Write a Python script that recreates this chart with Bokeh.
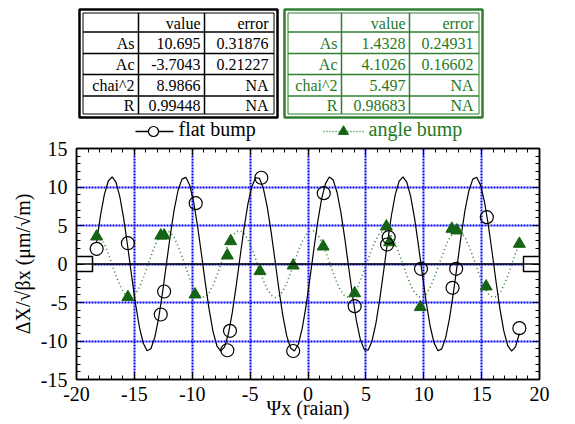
import numpy as np
from bokeh.plotting import figure
from bokeh.models import Range1d, LinearAxis, SingleIntervalTicker, Span
from bokeh.layouts import column
from bokeh.embed import file_html
from bokeh.resources import INLINE
from bokeh.core.properties import value

# ---------------- data ----------------
flat_psi = [-18.26, -15.56, -12.43, -12.72, -9.70, -6.74, -6.97, -4.03, -1.28,
            1.36, 4.03, 6.97, 6.83, 9.76, 12.80, 12.49, 15.45, 18.26]
flat_dx = [1.97, 2.70, -3.57, -6.56, 7.90, -8.68, -11.20, 11.20, -11.30,
           9.20, -5.48, 3.48, 2.53, -0.63, -0.63, -3.09, 6.08, -8.33]

angle_psi = [-18.26, -15.56, -12.72, -12.43, -9.76, -6.97, -6.68, -4.15, -1.28,
             1.31, 4.03, 6.77, 7.05, 9.70, 12.43, 12.86, 15.39, 18.26]
angle_dx = [3.57, -4.30, 3.70, 3.70, -3.96, 1.10, 2.96, -0.93, -0.20,
            2.27, -3.80, 4.87, 2.83, -5.60, 4.57, 4.35, -2.92, 2.62]

row_labels = ["As", "Ac", "chai^2", "R"]
col_headers = ["value", "error"]
flat_values = ["10.695", "-3.7043", "8.9866", "0.99448"]
flat_errors = ["0.31876", "0.21227", "NA", "NA"]
angle_values = ["1.4328", "4.1026", "5.497", "0.98683"]
angle_errors = ["0.24931", "0.16602", "NA", "NA"]

flat_As, flat_Ac = 10.695, -3.7043
angle_As, angle_Ac = 1.4328, 4.1026

series_names = ["flat bump", "angle bump"]
x_title = "\u03a8x (raian)"
y_title = "\u0394X/\u221a\u03b2x (\u03bcm/\u221am)"

X_MIN, X_MAX = -20, 20
Y_MIN, Y_MAX = -15, 15
x_ticks = list(range(X_MIN, X_MAX + 1, 5))
y_ticks = list(range(Y_MIN, Y_MAX + 1, 5))

FONT = "'Liberation Serif'"
GREEN_TXT = "#1f7a1f"
GREEN_LINE = "#2f7f2f"
GREEN_MK = "#146414"

# fit curves from the fitted parameters shown in the tables
fit_psi = np.linspace(min(flat_psi), max(flat_psi), 110)
flat_fit = flat_As * np.sin(fit_psi) + flat_Ac * np.cos(fit_psi)
angle_fit = angle_As * np.sin(fit_psi) + angle_Ac * np.cos(fit_psi)

# ---------------- layout (pixels) ----------------
FRAME_L, FRAME_R = 76, 539       # frame edges on the page
FRAME_W = FRAME_R - FRAME_L
FRAME_H = 231
PAD_L, PAD_R = 76, 30
TOP_H = 141                      # panel holding tables + legend
MAIN_TOP = 7

# ---------------- top panel: tables + legend (page-pixel coordinates) ----------------
top = figure(frame_width=FRAME_W, frame_height=TOP_H,
             x_range=Range1d(FRAME_L, FRAME_R), y_range=Range1d(TOP_H, 0),
             output_backend="svg", toolbar_location=None,
             min_border_left=PAD_L, min_border_right=PAD_R,
             min_border_top=0, min_border_bottom=0)
top.axis.visible = False
top.grid.visible = False
top.outline_line_color = None


def draw_table(p, x0, x1, cols, rows_y, color, txt_color, labels, vals, errs):
    y0, y1 = 9, 117
    g = 3.5
    p.quad(left=[x0], right=[x1], top=[y0], bottom=[y1], fill_color=None,
           line_color=color, line_width=2.5)
    p.quad(left=[x0 + g], right=[x1 - g], top=[y0 + g], bottom=[y1 - g],
           fill_color=None, line_color=color, line_width=1)
    p.segment(x0=cols, x1=cols, y0=[y0 + g] * len(cols), y1=[y1 - g] * len(cols),
              line_color=color, line_width=1.5)
    p.segment(x0=[x0 + g] * len(rows_y), x1=[x1 - g] * len(rows_y), y0=rows_y, y1=rows_y,
              line_color=color, line_width=1.5)
    edges = [y0 + g] + rows_y + [y1 - g]
    centers = [(edges[i] + edges[i + 1]) / 2 + 0.5 for i in range(len(edges) - 1)]
    xs_right = [cols[0] - 4, cols[1] - 4, x1 - 9]
    texts, tx, ty = [], [], []
    for j, h in enumerate(col_headers):
        texts.append(h); tx.append(xs_right[j + 1]); ty.append(centers[0])
    for i in range(len(labels)):
        for j, t in enumerate([labels[i], vals[i], errs[i]]):
            texts.append(t); tx.append(xs_right[j]); ty.append(centers[i + 1])
    p.text(x=tx, y=ty, text=texts, text_align="right", text_baseline="middle",
           text_font=value(FONT), text_font_size="16px", text_color=txt_color)


rows_y = [31.5, 53, 74, 95.5]
draw_table(top, 79, 277, [138, 204], rows_y, "black", "black",
           row_labels, flat_values, flat_errors)
draw_table(top, 284, 482, [341, 409], rows_y, GREEN_LINE, GREEN_TXT,
           row_labels, angle_values, angle_errors)

# legend
LEG_Y = 131
LEG_TXT_Y = 128
top.line(x=[135, 173], y=[LEG_Y, LEG_Y], line_color="black", line_width=1.3)
top.scatter(x=[153], y=[LEG_Y], marker="circle", size=10, fill_color="white",
            line_color="black", line_width=1.2)
top.text(x=[178], y=[LEG_TXT_Y], text=[series_names[0]], text_baseline="middle",
         text_font=value(FONT), text_font_size="20px", text_color="black")
top.line(x=[323, 363], y=[LEG_Y, LEG_Y], line_color=GREEN_LINE, line_width=1.5,
         line_dash="1 2")
top.scatter(x=[343], y=[LEG_Y], marker="triangle", size=10, fill_color=GREEN_MK,
            line_color=GREEN_MK)
top.text(x=[368], y=[LEG_TXT_Y], text=[series_names[1]], text_baseline="middle",
         text_font=value(FONT), text_font_size="20px", text_color=GREEN_TXT)

# ---------------- main plot ----------------
p = figure(frame_width=FRAME_W, frame_height=FRAME_H, x_range=Range1d(X_MIN, X_MAX),
           y_range=Range1d(Y_MIN, Y_MAX), output_backend="svg",
           toolbar_location=None, min_border_left=PAD_L, min_border_right=PAD_R,
           min_border_top=MAIN_TOP, min_border_bottom=40)
p.outline_line_color = "black"
p.outline_line_width = 1.5

xt = SingleIntervalTicker(interval=5, num_minor_ticks=5)
yt = SingleIntervalTicker(interval=5, num_minor_ticks=5)
p.xaxis.ticker = xt
p.yaxis.ticker = yt
p.xgrid.ticker = xt
p.ygrid.ticker = yt
p.xaxis.major_label_overrides = {t: str(t) for t in x_ticks}
p.yaxis.major_label_overrides = {t: str(t) for t in y_ticks}

for g in (p.xgrid, p.ygrid):
    g.grid_line_color = "#0000ff"
    g.grid_line_width = 2
    g.grid_line_dash = "2 1"

for ax in (p.xaxis[0], p.yaxis[0]):
    ax.axis_line_color = "black"
    ax.axis_line_width = 1.5
    ax.major_tick_in = 7
    ax.major_tick_out = 0
    ax.minor_tick_in = 4
    ax.minor_tick_out = 0
    ax.major_tick_line_color = "black"
    ax.minor_tick_line_color = "black"
    ax.major_label_text_font = FONT
    ax.major_label_text_font_size = "20px"
    ax.major_label_text_color = "black"
    ax.axis_label_text_font = FONT
    ax.axis_label_text_font_size = "20px"
    ax.axis_label_text_font_style = "normal"
    ax.axis_label_text_color = "black"

p.xaxis.axis_label = x_title
p.yaxis.axis_label = y_title
p.xaxis.major_label_standoff = 7
p.xaxis.axis_label_standoff = -7
p.yaxis.major_label_standoff = 9
p.yaxis.axis_label_standoff = 4

for loc in ("above", "right"):
    ax = LinearAxis(ticker=SingleIntervalTicker(interval=5, num_minor_ticks=5))
    ticks = x_ticks if loc == "above" else y_ticks
    ax.major_label_overrides = {t: "" for t in ticks}
    ax.major_label_text_font_size = "0px"
    ax.major_label_standoff = 0
    ax.major_tick_in = 7
    ax.major_tick_out = 0
    ax.minor_tick_in = 4
    ax.minor_tick_out = 0
    ax.axis_line_color = "black"
    ax.axis_line_width = 1.5
    if loc == "above":
        p.extra_x_ranges = {"top": Range1d(X_MIN, X_MAX)}
        ax.x_range_name = "top"
    else:
        p.extra_y_ranges = {"right": Range1d(Y_MIN, Y_MAX)}
        ax.y_range_name = "right"
    p.add_layout(ax, loc)

# zero line
p.add_layout(Span(location=0, dimension="width", line_color="black", line_width=1.3))

# fit curves
p.line(fit_psi, angle_fit, line_color=GREEN_LINE, line_width=1.6, line_dash="1 3")
p.line(fit_psi, flat_fit, line_color="black", line_width=1.2)

# data points
p.scatter(angle_psi, angle_dx, marker="triangle", size=12, fill_color=GREEN_MK,
          line_color=GREEN_MK)
p.scatter(flat_psi, flat_dx, marker="circle", size=13, fill_color=None,
          line_color="black", line_width=1.2)

# end-of-zero-line boxes (clipped by the frame)
p.rect(x=[X_MIN, X_MAX], y=[0, 0], width=32, height=15, width_units="screen",
       height_units="screen", fill_color="white", line_color="black", line_width=1.5)

layout = column(top, p)
open("out.html", "w").write(file_html(layout, INLINE))
